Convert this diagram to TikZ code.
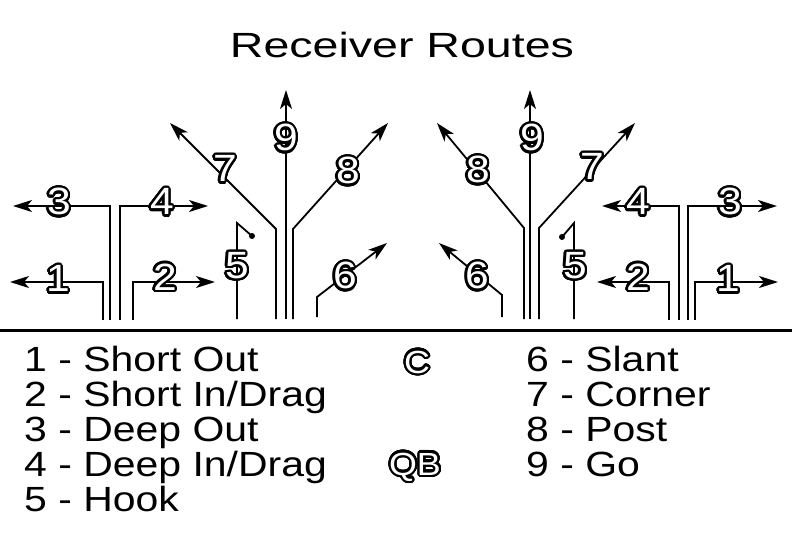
\documentclass[tikz,border=0pt]{standalone}
\usepackage{fontspec}
\setmainfont{Liberation Sans}
\newfontfamily\titlefont[FakeStretch=1.33]{Liberation Sans}
\newfontfamily\keyfont[FakeStretch=1.17]{Liberation Sans}
\newfontfamily\numfont[FakeStretch=1.12]{Liberation Sans}
\usepackage{contour}
\contourlength{2.2pt}
\contournumber{32}
\usetikzlibrary{arrows.meta}

\newcommand{\routenum}[1]{\contour{black}{\textcolor{white}{#1}}}

\begin{document}
\begin{tikzpicture}[x=1pt,y=-1pt,
  route/.style={line width=1.8pt,-{Stealth[length=19pt,width=12pt,inset=5pt]}},
  hookline/.style={line width=1.8pt},
  num/.style={inner sep=0pt,font=\numfont\fontsize{38}{38}\selectfont},
  player/.style={inner sep=0pt,anchor=base,font=\numfont\fontsize{32}{32}\selectfont},
  keyitem/.style={inner sep=0pt,anchor=base west,font=\keyfont\fontsize{35}{35}\selectfont}]
  \useasboundingbox (0,0) rectangle (792,551);

  \node (title) [inner sep=0pt,anchor=base,font=\titlefont\fontsize{35}{35}\selectfont] at (402,57) {Receiver Routes};

  % line of scrimmage
  \coordinate (losL) at (0,330);
  \coordinate (losR) at (792,330);
  \draw[line width=3pt] (losL) -- (losR);

  % left side
  \draw[route] (103,320) |- (10,282);
  \draw[route] (110,320) |- (13,206);
  \draw[route] (120,320) |- (208,206);
  \draw[route] (133,320) |- (215,282);
  \draw[hookline] (237,319) -- (237,223) -- (252,236);
  \fill (252,236) circle (3);
  \draw[route] (276,319) -- (276,229) -- (170,123);
  \draw[route] (286,319) -- (286,90);
  \draw[route] (293,319) -- (293,229) -- (388,123);
  \draw[route] (317,317) -- (317,297) -- (387,243);

  % right side
  \draw[route] (695,320) |- (778,282);
  \draw[route] (688,320) |- (777,206);
  \draw[route] (679,320) |- (602,206);
  \draw[route] (669,320) |- (597,282);
  \draw[hookline] (574,319) -- (574,223) -- (562,237);
  \fill (562,237) circle (3);
  \draw[route] (539,319) -- (539,228) -- (635,123);
  \draw[route] (530,319) -- (530,90);
  \draw[route] (524,319) -- (524,228) -- (437,123);
  \draw[route] (502,317) -- (502,295) -- (439,243);

  % route numbers
  \node (L1) [num] at (58,280) {\routenum{1}};
  \node (L2) [num] at (165,278) {\routenum{2}};
  \node (L3) [num] at (59,203) {\routenum{3}};
  \node (L4) [num] at (162,203) {\routenum{4}};
  \node (L5) [num] at (237,267) {\routenum{5}};
  \node (L6) [num] at (345,277) {\routenum{6}};
  \node (L7) [num] at (225,170) {\routenum{7}};
  \node (L8) [num] at (348,172) {\routenum{8}};
  \node (L9) [num] at (286,139) {\routenum{9}};
  \node (R1) [num] at (728,280) {\routenum{1}};
  \node (R2) [num] at (638,278) {\routenum{2}};
  \node (R3) [num] at (730,203) {\routenum{3}};
  \node (R4) [num] at (638,203) {\routenum{4}};
  \node (R5) [num] at (575,267) {\routenum{5}};
  \node (R6) [num] at (477,277) {\routenum{6}};
  \node (R7) [num] at (592,168) {\routenum{7}};
  \node (R8) [num] at (478,171) {\routenum{8}};
  \node (R9) [num] at (532,139) {\routenum{9}};

  % center and quarterback
  \node (C) [player] at (417,373) {\routenum{C}};
  \node (QB) [player] at (415,475) {\routenum{QB}};

  % key
  \node (k1) [keyitem] at (24,371) {1 - Short Out};
  \node (k2) [keyitem] at (24,406) {2 - Short In/Drag};
  \node (k3) [keyitem] at (24,441) {3 - Deep Out};
  \node (k4) [keyitem] at (24,476) {4 - Deep In/Drag};
  \node (k5) [keyitem] at (24,511) {5 - Hook};
  \node (k6) [keyitem] at (526,371) {6 - Slant};
  \node (k7) [keyitem] at (526,406) {7 - Corner};
  \node (k8) [keyitem] at (526,441) {8 - Post};
  \node (k9) [keyitem] at (526,476) {9 - Go};
\end{tikzpicture}
\end{document}
